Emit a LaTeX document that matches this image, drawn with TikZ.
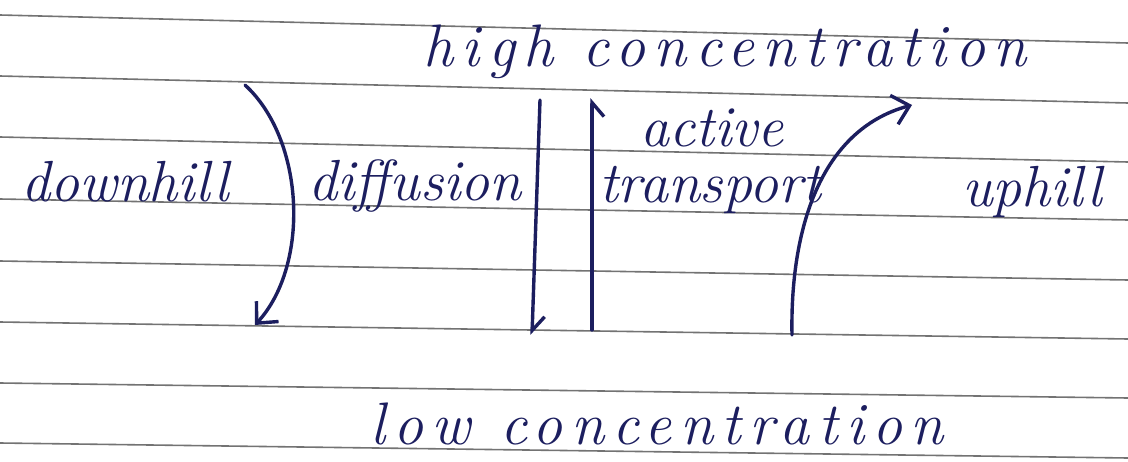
\documentclass[tikz,border=0pt]{standalone}
\usepackage{fontspec}
\setmainfont{Latin Modern Roman}
\newfontfamily\widehand{Latin Modern Roman}[LetterSpace=14]
\usetikzlibrary{positioning,arrows.meta,calc}
\definecolor{ink}{RGB}{28,30,95}
\tikzset{
  rule/.style={draw=black!55, line width=1.6pt},
  pen/.style={draw=ink, line width=3.4pt, line cap=round},
  word/.style={text=ink, font=\fontsize{58}{58}\selectfont\itshape, inner sep=0pt},
  wideword/.style={text=ink, font=\widehand\fontsize{60}{60}\selectfont\itshape, inner sep=0pt},
  flow/.style={pen, -{Straight Barb[length=16pt,width=30pt,line width=3.4pt]}},
  halfflow/.style={pen, -{Straight Barb[#1,length=14pt,width=24pt,line width=3.4pt]}}
}

\begin{document}
\begin{tikzpicture}[x=1pt,y=-1pt]
    \useasboundingbox (0,0) rectangle (1128,461);
    \fill[white] (0,0) rectangle (1128,461);

    % ruled paper
    \foreach \l/\r in {15/43,76/103,137/162,199/220,261/280,322/339,383/398,443/458}
      \draw[rule] (0,\l) -- (1128,\r);

    \node[wideword] (high)  at (725,52)  {high concentration};
    \node[wideword] (low)   at (657,424) {low concentration};
    \node[word] (downhill)  at (125,182) {downhill};
    \node[word] (diffusion) at (415,186) {diffusion};
    \node[word] (active)    at (712,128) {active};
    \node[word] (transport) at (710,190) {transport};
    \node[word] (uphill)    at (1032,192) {uphill};

    \coordinate (d0) at (245,85);
    \coordinate (d1) at (255,325);
    \coordinate (f0) at (540,100);
    \coordinate (f1) at (532,335);
    \coordinate (t0) at (592,330);
    \coordinate (t1) at (592,98);
    \coordinate (u0) at (792,335);
    \coordinate (u1) at (912,105);

    \draw[flow]  (d0) .. controls (305,140) and (310,265) .. (d1);
    \draw[halfflow=left]  (f0) -- (f1);
    \draw[halfflow=right] (t0) -- (t1);
    \draw[flow]  (u0) .. controls (790,230) and (820,130) .. (u1);
\end{tikzpicture}
\end{document}
